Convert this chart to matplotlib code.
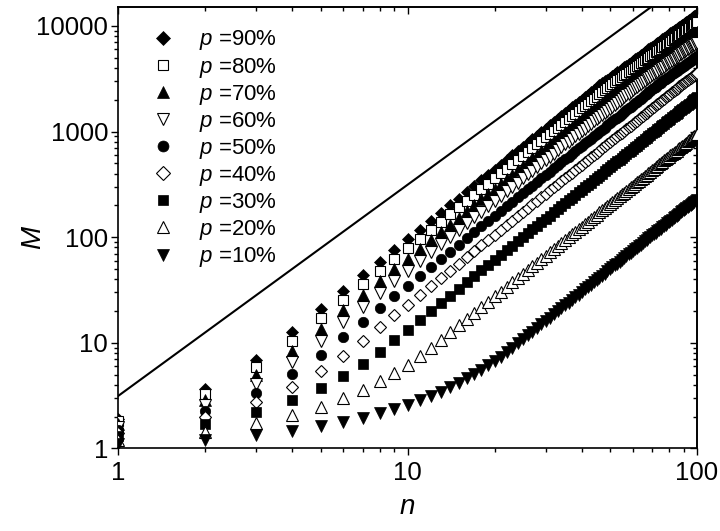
import matplotlib
matplotlib.use('Agg')
import matplotlib.pyplot as plt
import numpy as np
from matplotlib.ticker import LogLocator, FuncFormatter, NullFormatter

plt.rcParams['font.family'] = ['Liberation Sans', 'DejaVu Sans']
plt.rcParams['mathtext.fontset'] = 'custom'
plt.rcParams['mathtext.it'] = 'Liberation Sans:italic'
plt.rcParams['mathtext.rm'] = 'Liberation Sans'

# ---------------- data ----------------
n = list(range(1, 101))

M90 = [1.9, 3.61, 6.86, 12.68, 20.71, 30.94, 43.42, 58.25, 75.48, 95.17,
       117.4, 142.1, 169.5, 199.5, 232.2, 267.6, 305.8, 346.8, 390.6, 437.3,
       486.8, 539.3, 594.7, 653.1, 714.4, 778.8, 846.2, 916.7, 990.3, 1067,
       1147, 1230, 1316, 1405, 1498, 1594, 1693, 1795, 1900, 2009,
       2121, 2237, 2356, 2478, 2604, 2732, 2862, 2985, 3110, 3239,
       3369, 3503, 3639, 3777, 3919, 4062, 4209, 4358, 4509, 4663,
       4820, 4980, 5141, 5306, 5473, 5643, 5815, 5990, 6167, 6348,
       6530, 6715, 6903, 7094, 7287, 7482, 7680, 7881, 8085, 8291,
       8499, 8710, 8924, 9140, 9359, 9581, 9805, 10032, 10261, 10493,
       10727, 10964, 11204, 11446, 11691, 11938, 12188, 12441, 12696, 12954]

M80 = [1.8, 3.24, 5.832, 10.45, 17.07, 25.49, 35.78, 48.0, 62.2, 78.42,
       96.71, 117.1, 139.7, 164.4, 191.3, 220.5, 252.0, 285.8, 321.9, 360.3,
       401.1, 444.4, 490.0, 538.1, 588.7, 641.7, 697.3, 755.4, 816.0, 879.2,
       945.0, 1013, 1084, 1158, 1234, 1313, 1395, 1479, 1566, 1656,
       1748, 1843, 1941, 2042, 2145, 2252, 2361, 2473, 2587, 2705,
       2825, 2938, 3052, 3168, 3286, 3407, 3530, 3655, 3782, 3911,
       4042, 4176, 4312, 4450, 4590, 4732, 4877, 5023, 5172, 5323,
       5476, 5632, 5789, 5949, 6111, 6275, 6441, 6610, 6780, 6953,
       7128, 7305, 7484, 7666, 7849, 8035, 8223, 8413, 8605, 8800,
       8996, 9195, 9396, 9599, 9805, 10012, 10222, 10434, 10648, 10864]

M70 = [1.7, 2.89, 4.913, 8.352, 13.63, 20.36, 28.57, 38.32, 49.66, 62.62,
       77.23, 93.52, 111.5, 131.3, 152.8, 176.1, 201.2, 228.2, 257.0, 287.7,
       320.3, 354.8, 391.3, 429.7, 470.1, 512.4, 556.8, 603.2, 651.6, 702.1,
       754.5, 809.1, 865.8, 924.6, 985.4, 1049, 1114, 1181, 1250, 1322,
       1396, 1472, 1550, 1630, 1713, 1798, 1885, 1974, 2066, 2160,
       2256, 2355, 2455, 2558, 2664, 2771, 2877, 2978, 3082, 3187,
       3294, 3403, 3514, 3626, 3741, 3857, 3974, 4094, 4215, 4338,
       4463, 4590, 4718, 4848, 4980, 5114, 5249, 5387, 5526, 5666,
       5809, 5953, 6099, 6247, 6397, 6548, 6701, 6856, 7013, 7171,
       7332, 7494, 7658, 7823, 7990, 8160, 8330, 8503, 8677, 8854]

M60 = [1.6, 2.56, 4.096, 6.554, 10.43, 15.59, 21.88, 29.34, 38.03, 47.95,
       59.13, 71.61, 85.40, 100.5, 117.0, 134.8, 154.1, 174.7, 196.8, 220.3,
       245.3, 271.7, 299.6, 329.0, 359.9, 392.4, 426.3, 461.9, 498.9, 537.6,
       577.8, 619.6, 662.9, 708.0, 754.6, 802.8, 852.7, 904.2, 957.4, 1012,
       1069, 1127, 1187, 1248, 1312, 1377, 1443, 1512, 1582, 1654,
       1727, 1803, 1880, 1959, 2040, 2122, 2206, 2292, 2380, 2470,
       2561, 2655, 2750, 2845, 2935, 3026, 3118, 3212, 3307, 3404,
       3502, 3601, 3702, 3804, 3907, 4012, 4118, 4226, 4335, 4445,
       4557, 4671, 4785, 4901, 5019, 5137, 5257, 5379, 5502, 5626,
       5752, 5879, 6008, 6138, 6269, 6401, 6536, 6671, 6808, 6946]

M50 = [1.5, 2.25, 3.375, 5.063, 7.594, 11.26, 15.81, 21.20, 27.48, 34.64,
       42.73, 51.74, 61.71, 72.64, 84.53, 97.43, 111.3, 126.3, 142.2, 159.2,
       177.2, 196.3, 216.5, 237.7, 260.1, 283.5, 308.1, 333.7, 360.5, 388.4,
       417.5, 447.7, 479.0, 511.5, 545.2, 580.1, 616.1, 653.4, 691.8, 731.4,
       772.2, 814.3, 857.5, 902.0, 947.8, 994.7, 1043, 1092, 1143, 1195,
       1248, 1303, 1358, 1415, 1474, 1533, 1594, 1656, 1720, 1785,
       1851, 1918, 1987, 2057, 2128, 2201, 2275, 2350, 2427, 2505,
       2584, 2665, 2747, 2831, 2908, 2986, 3065, 3145, 3226, 3309,
       3392, 3476, 3561, 3648, 3735, 3823, 3913, 4003, 4095, 4187,
       4281, 4376, 4471, 4568, 4666, 4764, 4864, 4965, 5067, 5170]

M40 = [1.4, 1.96, 2.744, 3.842, 5.378, 7.530, 10.49, 14.07, 18.23, 22.99,
       28.35, 34.33, 40.95, 48.20, 56.09, 64.64, 73.87, 83.78, 94.35, 105.6,
       117.6, 130.3, 143.6, 157.8, 172.6, 188.1, 204.4, 221.4, 239.2, 257.7,
       277.0, 297.0, 317.8, 339.4, 361.8, 384.9, 408.8, 433.5, 459.0, 485.3,
       512.4, 540.3, 569.0, 598.5, 628.9, 660.0, 692.0, 724.8, 758.4, 792.9,
       828.2, 864.3, 901.3, 939.2, 977.9, 1017, 1058, 1099, 1141, 1184,
       1228, 1273, 1318, 1365, 1412, 1460, 1509, 1559, 1610, 1662,
       1715, 1768, 1823, 1878, 1935, 1992, 2050, 2109, 2169, 2230,
       2292, 2354, 2418, 2483, 2548, 2614, 2682, 2750, 2819, 2883,
       2948, 3013, 3079, 3145, 3213, 3281, 3349, 3419, 3489, 3560]

M30 = [1.3, 1.69, 2.197, 2.856, 3.713, 4.827, 6.275, 8.157, 10.55, 13.30,
       16.40, 19.86, 23.69, 27.88, 32.44, 37.39, 42.73, 48.46, 54.58, 61.10,
       68.02, 75.35, 83.09, 91.25, 99.82, 108.8, 118.2, 128.1, 138.4, 149.1,
       160.2, 171.8, 183.9, 196.3, 209.3, 222.7, 236.5, 250.8, 265.5, 280.7,
       296.4, 312.5, 329.1, 346.2, 363.8, 381.8, 400.3, 419.3, 438.7, 458.7,
       479.1, 500.0, 521.4, 543.3, 565.7, 588.5, 611.9, 635.7, 660.1, 685.0,
       710.3, 736.2, 762.6, 789.5, 816.8, 844.8, 873.1, 902.1, 931.5, 961.5,
       991.9, 1023, 1055, 1087, 1119, 1152, 1186, 1220, 1255, 1290,
       1326, 1362, 1399, 1436, 1474, 1512, 1551, 1591, 1631, 1672,
       1713, 1754, 1797, 1839, 1883, 1927, 1971, 2016, 2061, 2108]

M20 = [1.2, 1.44, 1.728, 2.074, 2.488, 2.986, 3.583, 4.300, 5.160, 6.192,
       7.430, 8.916, 10.63, 12.52, 14.57, 16.79, 19.19, 21.76, 24.50, 27.43,
       30.54, 33.83, 37.31, 40.97, 44.82, 48.86, 53.09, 57.51, 62.13, 66.94,
       71.94, 77.15, 82.55, 88.16, 93.96, 99.97, 106.2, 112.6, 119.2, 126.1,
       133.1, 140.3, 147.8, 155.5, 163.3, 171.4, 179.7, 188.2, 197.0, 205.9,
       215.1, 224.5, 234.1, 243.9, 254.0, 264.2, 274.7, 285.4, 296.4, 307.6,
       318.9, 330.6, 342.4, 354.5, 366.8, 379.3, 392.0, 405.0, 418.2, 431.7,
       445.4, 459.3, 473.4, 487.8, 502.4, 517.3, 532.4, 547.7, 563.3, 579.1,
       595.2, 611.5, 628.0, 644.8, 661.8, 679.0, 696.5, 714.3, 732.3, 750.5,
       769.0, 787.7, 806.6, 825.8, 845.3, 865.0, 884.9, 905.1, 925.6, 946.2]

M10 = [1.1, 1.21, 1.331, 1.464, 1.611, 1.772, 1.949, 2.144, 2.358, 2.594,
       2.853, 3.138, 3.452, 3.797, 4.177, 4.595, 5.054, 5.560, 6.116, 6.728,
       7.400, 8.140, 8.954, 9.837, 10.76, 11.73, 12.75, 13.81, 14.92, 16.07,
       17.27, 18.52, 19.82, 21.17, 22.56, 24.00, 25.49, 27.03, 28.63, 30.27,
       31.95, 33.69, 35.48, 37.33, 39.22, 41.16, 43.15, 45.20, 47.30, 49.45,
       51.65, 53.90, 56.21, 58.57, 60.98, 63.45, 65.97, 68.54, 71.17, 73.85,
       76.58, 79.37, 82.21, 85.12, 88.06, 91.07, 94.13, 97.25, 100.4, 103.7,
       106.9, 110.3, 113.7, 117.1, 120.6, 124.2, 127.8, 131.5, 135.3, 139.1,
       142.9, 146.8, 150.8, 154.8, 158.9, 163.0, 167.2, 171.5, 175.8, 180.2,
       184.6, 189.1, 193.7, 198.3, 203.0, 207.7, 212.5, 217.3, 222.2, 227.2]

labels = ['90%', '80%', '70%', '60%', '50%', '40%', '30%', '20%', '10%']

# reference line
line_n = [1, 100]
line_M = [3.14, 31400]

# ---------------- styles ----------------
series = [M90, M80, M70, M60, M50, M40, M30, M20, M10]
markers = ['D', 's', '^', 'v', 'o', 'D', 's', '^', 'v']
filled = [True, False, True, False, True, False, True, False, True]
sizes = [6.4, 7.0, 8.0, 8.0, 7.5, 6.4, 6.6, 8.0, 8.0]

fig = plt.figure(figsize=(7.2, 5.31), dpi=100)
ax = fig.add_axes([0.1643, 0.1557, 0.8037, 0.8315])
ax.set_xscale('log')
ax.set_yscale('log')

ax.plot(line_n, line_M, color='black', lw=1.5, zorder=2)

handles = []
for M, mk, fl, ms, lab in zip(series, markers, filled, sizes, labels):
    fc = 'black' if fl else 'white'
    h, = ax.plot(n, M, linestyle='none', marker=mk, markersize=ms,
                 markerfacecolor=fc, markeredgecolor='black',
                 markeredgewidth=0.5 if fl else 0.8, zorder=3,
                 label=r'$p$ =' + lab)
    handles.append(h)

ax.set_xlim(1, 100)
ax.set_ylim(1, 15200)

fmt = FuncFormatter(lambda v, _: f'{v:g}')
for axis in (ax.xaxis, ax.yaxis):
    axis.set_major_locator(LogLocator(base=10, numticks=10))
    axis.set_minor_locator(LogLocator(base=10, subs=np.arange(2, 10), numticks=10))
    axis.set_major_formatter(fmt)
    axis.set_minor_formatter(NullFormatter())

ax.tick_params(which='both', direction='out', top=False, right=False,
               width=1.0, labelsize=18.5)
ax.tick_params(which='major', length=5)
ax.tick_params(which='minor', length=3)
ax.tick_params(axis='x', pad=4)
ax.tick_params(axis='y', pad=2.4)

for side in ('top', 'right'):
    if side == 'top':
        sec = ax.secondary_xaxis('top')
        axis = sec.xaxis
    else:
        sec = ax.secondary_yaxis('right')
        axis = sec.yaxis
    axis.set_major_locator(LogLocator(base=10, numticks=10))
    axis.set_minor_locator(LogLocator(base=10, subs=np.arange(2, 10), numticks=10))
    axis.set_major_formatter(NullFormatter())
    axis.set_minor_formatter(NullFormatter())
    sec.tick_params(which='both', direction='in', width=1.0)
    sec.tick_params(which='major', length=5)
    sec.tick_params(which='minor', length=3)
    for sp in sec.spines.values():
        sp.set_linewidth(1.2)

for sp in ax.spines.values():
    sp.set_linewidth(1.2)

ax.set_xlabel('n', fontstyle='italic', fontsize=20)
ax.set_ylabel('M', fontstyle='italic', fontsize=20)
ax.xaxis.set_label_coords(0.5, -0.103)
ax.yaxis.set_label_coords(-0.125, 0.478)

leg = ax.legend(handles=handles, loc='upper left', bbox_to_anchor=(0.058, 0.951),
                frameon=False, fontsize=16, handlelength=1.0, handletextpad=1.1,
                labelspacing=0.14, borderpad=0, borderaxespad=0, markerscale=1.05,
                numpoints=1)

fig.savefig('out.png', dpi=100)
